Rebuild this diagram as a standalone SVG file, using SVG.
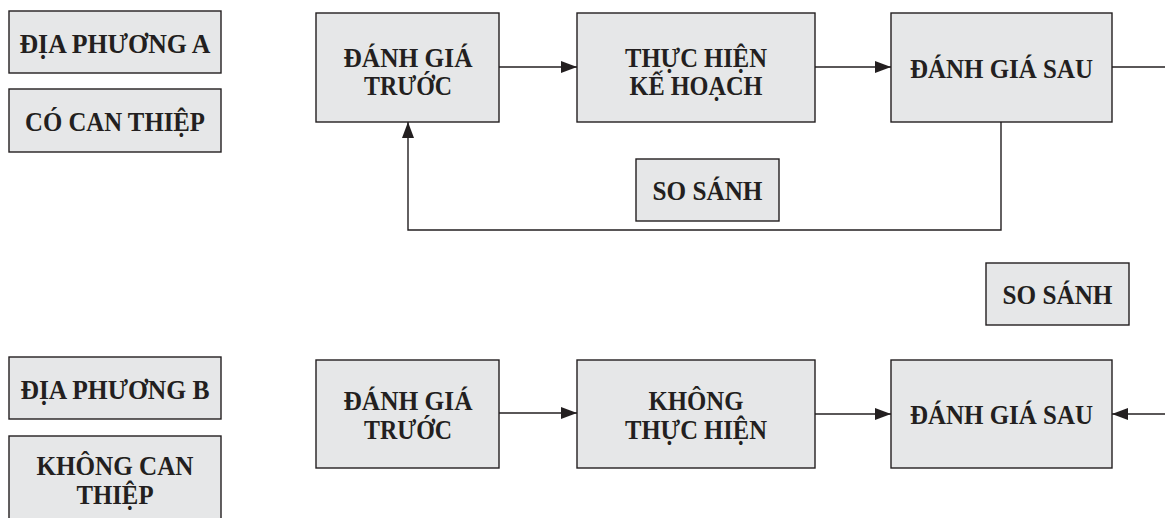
<svg xmlns="http://www.w3.org/2000/svg" width="1165" height="518" viewBox="0 0 1165 518">
<style>
.box{fill:#e6e7e8;stroke:#231f20;stroke-width:1.4}
.t{font-family:"Liberation Serif","Times New Roman",serif;font-weight:bold;font-size:27px;fill:#231f20;text-anchor:middle}
.c{fill:none;stroke:#231f20;stroke-width:1.4}
</style>
<defs>
<marker id="ah" viewBox="0 0 16 12" refX="16" refY="6" markerWidth="16" markerHeight="12" markerUnits="userSpaceOnUse" orient="auto">
<path d="M0,0 L16,6 L0,12 Z" fill="#231f20"/>
</marker>
</defs>
<g id="connectors">
<line class="c" x1="499" y1="67" x2="577" y2="67" marker-end="url(#ah)"/>
<line class="c" x1="815" y1="67" x2="891" y2="67" marker-end="url(#ah)"/>
<line class="c" x1="1112" y1="67" x2="1165" y2="67"/>
<polyline class="c" points="1001,122 1001,230 408,230 408,122" marker-end="url(#ah)"/>
<line class="c" x1="499" y1="413" x2="577" y2="413" marker-end="url(#ah)"/>
<line class="c" x1="815" y1="414" x2="891" y2="414" marker-end="url(#ah)"/>
<line class="c" x1="1165" y1="414" x2="1112" y2="414" marker-end="url(#ah)"/>
</g>
<g id="dia-phuong-a"><rect class="box" x="9" y="11" width="212" height="62"/><text class="t" x="115" y="53" textLength="191" lengthAdjust="spacingAndGlyphs">ĐỊA PHƯƠNG A</text></g>
<g id="co-can-thiep"><rect class="box" x="9" y="89" width="212" height="63"/><text class="t" x="115" y="131" textLength="180" lengthAdjust="spacingAndGlyphs">CÓ CAN THIỆP</text></g>
<g id="danh-gia-truoc-a"><rect class="box" x="316" y="13" width="183" height="109"/><text class="t" x="408" y="67" textLength="129" lengthAdjust="spacingAndGlyphs">ĐÁNH GIÁ</text><text class="t" x="408" y="95" textLength="88" lengthAdjust="spacingAndGlyphs">TRƯỚC</text></g>
<g id="thuc-hien-ke-hoach"><rect class="box" x="577" y="13" width="238" height="109"/><text class="t" x="696" y="67" textLength="142" lengthAdjust="spacingAndGlyphs">THỰC HIỆN</text><text class="t" x="696" y="95" textLength="133" lengthAdjust="spacingAndGlyphs">KẾ HOẠCH</text></g>
<g id="danh-gia-sau-a"><rect class="box" x="891" y="13" width="221" height="109"/><text class="t" x="1001.5" y="78" textLength="183" lengthAdjust="spacingAndGlyphs">ĐÁNH GIÁ SAU</text></g>
<g id="so-sanh-1"><rect class="box" x="636" y="159" width="143" height="62"/><text class="t" x="707.5" y="200" textLength="110" lengthAdjust="spacingAndGlyphs">SO SÁNH</text></g>
<g id="so-sanh-2"><rect class="box" x="986" y="263" width="143" height="62"/><text class="t" x="1057.5" y="304" textLength="110" lengthAdjust="spacingAndGlyphs">SO SÁNH</text></g>
<g id="dia-phuong-b"><rect class="box" x="9" y="357" width="212" height="62"/><text class="t" x="115" y="399" textLength="189" lengthAdjust="spacingAndGlyphs">ĐỊA PHƯƠNG B</text></g>
<g id="khong-can-thiep"><rect class="box" x="9" y="436" width="212" height="95"/><text class="t" x="115" y="475" textLength="157" lengthAdjust="spacingAndGlyphs">KHÔNG CAN</text><text class="t" x="115" y="504" textLength="77" lengthAdjust="spacingAndGlyphs">THIỆP</text></g>
<g id="danh-gia-truoc-b"><rect class="box" x="316" y="360" width="183" height="108"/><text class="t" x="408" y="410" textLength="129" lengthAdjust="spacingAndGlyphs">ĐÁNH GIÁ</text><text class="t" x="408" y="439" textLength="88" lengthAdjust="spacingAndGlyphs">TRƯỚC</text></g>
<g id="khong-thuc-hien"><rect class="box" x="577" y="360" width="238" height="108"/><text class="t" x="696" y="410" textLength="95" lengthAdjust="spacingAndGlyphs">KHÔNG</text><text class="t" x="696" y="439" textLength="142" lengthAdjust="spacingAndGlyphs">THỰC HIỆN</text></g>
<g id="danh-gia-sau-b"><rect class="box" x="891" y="360" width="221" height="108"/><text class="t" x="1001.5" y="424" textLength="183" lengthAdjust="spacingAndGlyphs">ĐÁNH GIÁ SAU</text></g>
</svg>
